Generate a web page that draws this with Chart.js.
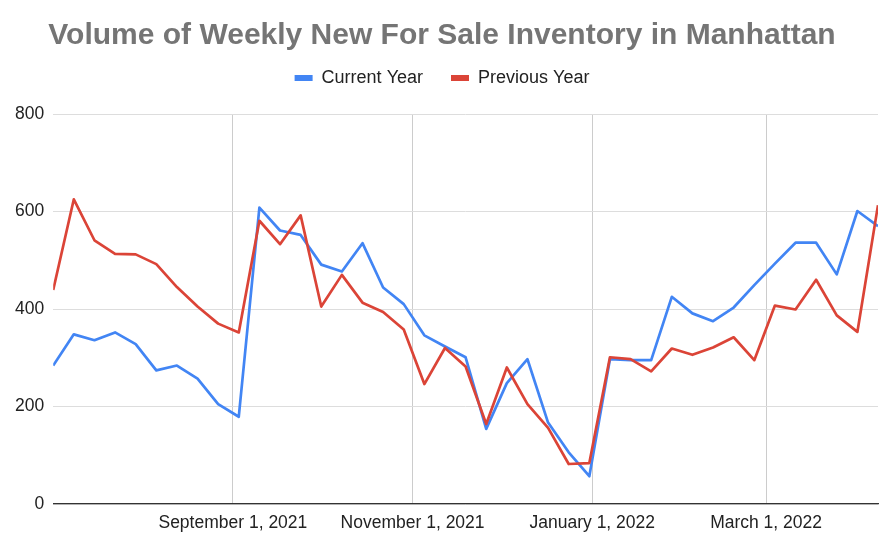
<!DOCTYPE html>
<html>
<head>
<meta charset="utf-8">
<script src="https://cdn.jsdelivr.net/npm/chart.js@4.4.1/dist/chart.umd.min.js"></script>
<style>
  html, body { margin: 0; padding: 0; background: #fff; }
  canvas { display: block; }
</style>
</head>
<body>
<canvas id="chart" width="891" height="539"></canvas>
<script>
// Chart data
const weeks = [
    '2021-07-02', '2021-07-09', '2021-07-16', '2021-07-23', '2021-07-30',
    '2021-08-06', '2021-08-13', '2021-08-20', '2021-08-27', '2021-09-03',
    '2021-09-10', '2021-09-17', '2021-09-24', '2021-10-01', '2021-10-08',
    '2021-10-15', '2021-10-22', '2021-10-29', '2021-11-05', '2021-11-12',
    '2021-11-19', '2021-11-26', '2021-12-03', '2021-12-10', '2021-12-17',
    '2021-12-24', '2021-12-31', '2022-01-07', '2022-01-14', '2022-01-21',
    '2022-01-28', '2022-02-04', '2022-02-11', '2022-02-18', '2022-02-25',
    '2022-03-04', '2022-03-11', '2022-03-18', '2022-03-25', '2022-04-01',
    '2022-04-08'
];
const currentYear = [
    284, 348, 336, 352, 328, 274, 284, 257, 205, 179,
    608, 561, 552, 491, 477, 535, 444, 410, 346, 323,
    301, 154, 248, 297, 167, 106, 57, 297, 295, 295,
    425, 391, 375, 403, 449, 493, 536, 536, 471, 601,
    570
];
const previousYear = [
    439, 625, 541, 513, 512, 492, 445, 405, 370, 352,
    581, 533, 592, 405, 470, 413, 394, 358, 246, 320,
    282, 164, 280, 205, 156, 82, 84, 301, 297, 272,
    319, 306, 321, 342, 295, 407, 399, 460, 387, 353,
    613
];
const tickDates = ['2021-09-01', '2021-11-01', '2022-01-01', '2022-03-01'];
const tickLabels = ['September 1, 2021', 'November 1, 2021', 'January 1, 2022', 'March 1, 2022'];
const yTicks = [0, 200, 400, 600, 800];

// Helpers: days since the first week
const DAY = 24 * 60 * 60 * 1000;
const startTime = Date.parse(weeks[0]);
const toDay = (d) => Math.round((Date.parse(d) - startTime) / DAY);
const toPoints = (values) => values.map((v, i) => ({ x: toDay(weeks[i]), y: v }));

const FONT = '"Liberation Sans", Arial, Helvetica, sans-serif';

new Chart(document.querySelector('#chart'), {
    type: 'line',
    data: {
        datasets: [{
            label: 'Current Year',
            data: toPoints(currentYear),
            borderColor: '#4285f4',
            backgroundColor: '#4285f4',
            order: 1
        }, {
            label: 'Previous Year',
            data: toPoints(previousYear),
            borderColor: '#db4437',
            backgroundColor: '#db4437',
            order: 0
        }]
    },
    options: {
        responsive: false,
        animation: false,
        elements: {
            line: { borderWidth: 2.7, tension: 0, borderJoinStyle: 'round' },
            point: { radius: 0, hoverRadius: 0 }
        },
        layout: {
            padding: { left: 6, right: 13, top: 0, bottom: -4 }
        },
        plugins: {
            title: {
                display: true,
                text: 'Volume of Weekly New For Sale Inventory in Manhattan',
                color: '#757575',
                font: { family: FONT, size: 30, weight: 'bold', lineHeight: 1.2 },
                padding: { top: 18, bottom: -13 }
            },
            legend: {
                display: true,
                position: 'top',
                labels: {
                    color: '#222',
                    font: { family: FONT, size: 18 },
                    boxWidth: 18,
                    boxHeight: 6,
                    padding: 28,
                    sort: (a, b) => a.datasetIndex - b.datasetIndex,
                    generateLabels: (chart) => Chart.defaults.plugins.legend.labels
                        .generateLabels(chart)
                        .map((item) => ({ ...item, lineWidth: 0 }))
                }
            },
            // empty spacer between the legend and the plot
            subtitle: {
                display: true,
                text: '',
                weight: 500,
                font: { family: FONT, size: 10, lineHeight: 1 },
                padding: { top: 7, bottom: 0 }
            },
            tooltip: { enabled: false }
        },
        scales: {
            x: {
                type: 'linear',
                min: 0,
                max: toDay(weeks[weeks.length - 1]),
                afterBuildTicks: (scale) => {
                    scale.ticks = tickDates.map((d) => ({ value: toDay(d) }));
                },
                ticks: {
                    autoSkip: false,
                    maxRotation: 0,
                    padding: 9,
                    color: '#222',
                    font: { family: FONT, size: 17.5 },
                    callback: (value) => {
                        const idx = tickDates.findIndex((d) => toDay(d) === value);
                        return idx >= 0 ? tickLabels[idx] : '';
                    }
                },
                grid: { color: '#cccccc', lineWidth: 1, drawTicks: false },
                border: { display: true, color: '#333333', width: 1.3 }
            },
            y: {
                min: 0,
                max: 800,
                afterBuildTicks: (scale) => {
                    scale.ticks = yTicks.map((v) => ({ value: v }));
                },
                ticks: {
                    padding: 9,
                    color: '#222',
                    font: { family: FONT, size: 17.5 }
                },
                grid: { color: '#dddddd', lineWidth: 1, drawTicks: false },
                border: { display: false }
            }
        }
    }
});
</script>
</body>
</html>
